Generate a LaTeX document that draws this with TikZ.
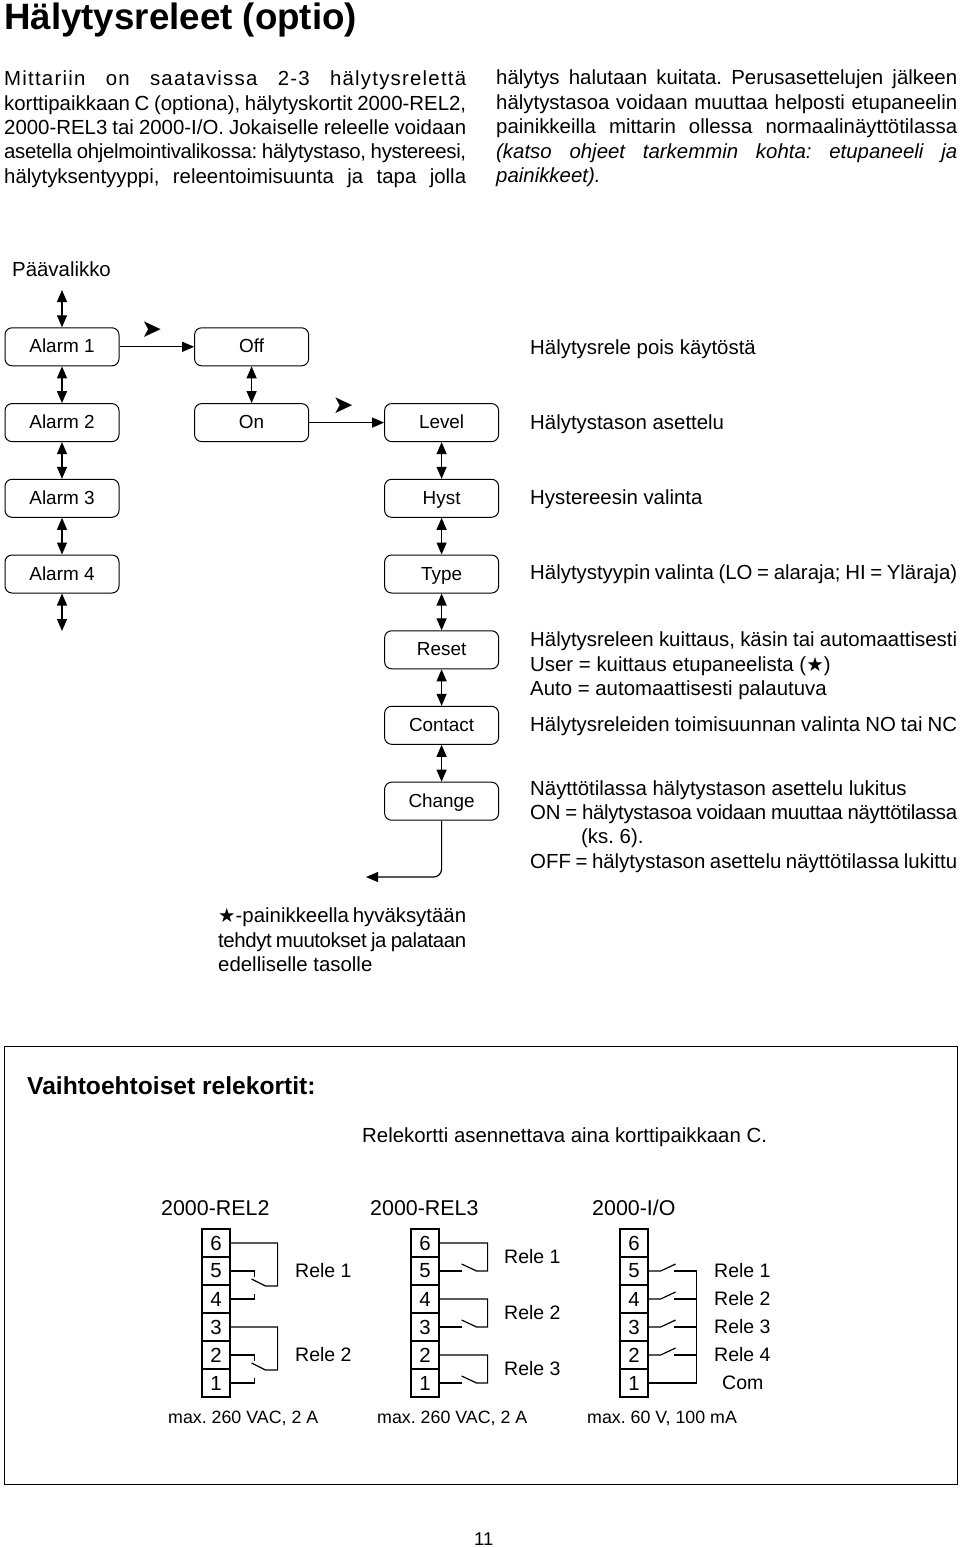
\documentclass[tikz,border=0pt]{standalone}
\usepackage{fontspec}
\setmainfont{Liberation Sans}
\newfontfamily\dvfont{DejaVu Sans}
\usetikzlibrary{arrows.meta}
\newcommand{\fs}[1]{\fontsize{#1}{#1}\selectfont}
\newcommand{\starsym}{{\dvfont\fs{19.5}★}}
\tikzset{
  txt/.style={anchor=base west,inner sep=0pt,font=\fs{20.4}},
  rl/.style={anchor=base west,inner sep=0pt,font=\fs{19.5}},
  menubox/.style={draw,rounded corners=7pt,line width=1pt,minimum width=114pt,minimum height=38pt,inner sep=0pt,font=\fs{18.9},text height=14pt,text depth=2pt},
  cell/.style={draw,line width=1.2pt,minimum width=28pt,minimum height=28pt,inner sep=0pt,font=\fs{20.4}},
  wire/.style={line width=1.2pt},
  dbl/.style={line width=1.2pt,{Triangle[length=12pt,width=10pt]}-{Triangle[length=12pt,width=10pt]}},
  one/.style={line width=1.2pt,-{Triangle[length=12pt,width=10pt]}},
  nxt/.style={inner sep=0pt,font=\dvfont\fs{25}}
}
% name, x, y (baseline), width, text: a line stretched to the given width
\newcommand{\jl}[5]{\node[txt] (#1) at (#2,#3) {\frenchspacing\hbox to #4pt{\spaceskip=0.278em plus 1fil minus 0.2em #5}};}
\newcommand{\tl}[4]{\node[txt] (#1) at (#2,#3) {\frenchspacing #4};}
\begin{document}
\begin{tikzpicture}[x=1pt,y=-1pt]
\useasboundingbox (0,0) rectangle (960,1548);
% title
\node[txt,font=\bfseries\fs{36.7}] (title) at (4,29) {Hälytysreleet (optio)};
% intro left
\jl{pa}{4}{85}{462}{\addfontfeature{LetterSpace=6}Mittariin on saatavissa 2-3 hälytysrelettä}
\jl{pb}{4}{110}{462}{korttipaikkaan C (optiona), hälytyskortit 2000-REL2,}
\jl{pc}{4}{134}{462}{2000-REL3 tai 2000-I/O. Jokaiselle releelle voidaan}
\jl{pd}{4}{158}{462}{\addfontfeature{LetterSpace=-1.6}asetella ohjelmointivalikossa: hälytystaso, hystereesi,}
\jl{pe}{4}{183}{462}{hälytyksentyyppi, releentoimisuunta ja tapa jolla}
% intro right
\jl{qa}{496}{84}{461}{hälytys halutaan kuitata. Perusasettelujen jälkeen}
\jl{qb}{496}{109}{461}{hälytystasoa voidaan muuttaa helposti etupaneelin}
\jl{qc}{496}{133}{461}{painikkeilla mittarin ollessa normaalinäyttötilassa}
\jl{qd}{496}{158}{461}{\itshape (katso ohjeet tarkemmin kohta: etupaneeli ja}
\tl{qe}{496}{182}{\itshape painikkeet).}
% menu
\tl{paav}{12}{276}{Päävalikko}
\node[menubox] (al1) at (62,346.8) {Alarm 1};
\node[menubox] (al2) at (62,422.6) {Alarm 2};
\node[menubox] (al3) at (62,498.3) {Alarm 3};
\node[menubox] (al4) at (62,574) {Alarm 4};
\node[menubox] (off) at (251.6,346.8) {Off};
\node[menubox] (on) at (251.6,422.6) {On};
\node[menubox] (level) at (441.6,422.6) {Level};
\node[menubox] (hyst) at (441.6,498.3) {Hyst};
\node[menubox] (type) at (441.6,574) {Type};
\node[menubox] (reset) at (441.6,649.8) {Reset};
\node[menubox] (contact) at (441.6,725.3) {Contact};
\node[menubox] (change) at (441.6,801.2) {Change};
\coordinate (topend) at (62,290);
\coordinate (botend) at (62,631);
\coordinate (backend) at (366,877);
\coordinate (backcorner) at (441.6,877);
\draw[dbl] (topend) -- (al1.north);
\draw[dbl] (al1) -- (al2);
\draw[dbl] (al2) -- (al3);
\draw[dbl] (al3) -- (al4);
\draw[dbl] (al4.south) -- (botend);
\draw[dbl] (off) -- (on);
\draw[dbl] (level) -- (hyst);
\draw[dbl] (hyst) -- (type);
\draw[dbl] (type) -- (reset);
\draw[dbl] (reset) -- (contact);
\draw[dbl] (contact) -- (change);
\draw[one] (al1) -- (off);
\draw[one] (on) -- (level);
\draw[one,rounded corners=8pt] (change.south) -- (backcorner) -- (backend);
\node[nxt] (adva) at (151.5,330) {➤};
\node[nxt] (advb) at (343,405.5) {➤};
% descriptions
\tl{da}{530}{354}{Hälytysrele pois käytöstä}
\tl{db}{530}{429}{Hälytystason asettelu}
\tl{dc}{530}{504}{Hystereesin valinta}
\jl{dd}{530}{579}{427}{Hälytystyypin valinta (LO = alaraja; HI = Yläraja)}
\jl{de}{530}{646}{427}{Hälytysreleen kuittaus, käsin tai automaattisesti}
\tl{df}{530}{671}{User = kuittaus etupaneelista (\starsym)}
\tl{dg}{530}{695}{Auto = automaattisesti palautuva}
\jl{dh}{530}{731}{427}{Hälytysreleiden toimisuunnan valinta NO tai NC}
\tl{di}{530}{795}{Näyttötilassa hälytystason asettelu lukitus}
\jl{dj}{530}{819}{427}{\addfontfeature{LetterSpace=-1.6}ON = hälytystasoa voidaan muuttaa näyttötilassa}
\tl{dk}{581}{843}{(ks. 6).}
\jl{dl}{530}{868}{427}{OFF = hälytystason asettelu näyttötilassa lukittu}
% note
\jl{na}{218}{922}{248}{\starsym-painikkeella hyväksytään}
\jl{nb}{218}{947}{248}{\addfontfeature{LetterSpace=-2}tehdyt muutokset ja palataan}
\tl{nc}{218}{971}{edelliselle tasolle}
% frame
\node[draw,line width=0.9pt,minimum width=953pt,minimum height=438pt,inner sep=0pt] (frame) at (480.6,1265) {};
\node[txt,font=\bfseries\fs{24.6}] (vaih) at (27,1094) {Vaihtoehtoiset relekortit:};
\tl{rele}{362}{1142}{Relekortti asennettava aina korttipaikkaan C.}
\node[txt,font=\fs{21.4}] (ha) at (161,1215) {2000-REL2};
\node[txt,font=\fs{21.4}] (hb) at (370,1215) {2000-REL3};
\node[txt,font=\fs{21.4}] (hc) at (592,1215) {2000-I/O};
% terminal blocks
\foreach \n/\yy in {6/1243,5/1271,4/1299,3/1327,2/1355,1/1383}{
  \node[cell] (a\n) at (216,\yy) {\n};
  \node[cell] (b\n) at (425,\yy) {\n};
  \node[cell] (c\n) at (634,\yy) {\n};
}
% block 1
\foreach \x/\y/\z in {a6/a5/a4,a3/a2/a1}{
  \draw[wire] (\x.east) -- ++(47,0) -- ++(0,43) -- ++(-12,0) -- ++(-14,-7);
  \draw[wire] (\y.east) -- ++(24,0) -- ++(0,6);
  \draw[wire] (\z.east) -- ++(24,0) -- ++(0,-5);
}
% block 2
\foreach \x/\y in {b6/b5,b4/b3,b2/b1}{
  \draw[wire] (\x.east) -- ++(48,0) -- ++(0,28) -- ++(-11,0) -- ++(-15,-7);
  \draw[wire] (\y.east) -- ++(22,0);
}
% block 3
\foreach \x in {c5,c4,c3,c2}{
  \draw[wire] (\x.east) -- ++(12,0) -- ++(15,-7);
  \draw[wire] ([xshift=25pt]\x.east) -- ++(23,0);
}
\draw[wire] (c1.east) -- ++(48,0) -- ++(0,-112);
% relay labels
\node[rl] (ra) at (295,1277) {Rele 1};
\node[rl] (rb) at (295,1361) {Rele 2};
\node[rl] (rc) at (504,1263) {Rele 1};
\node[rl] (rd) at (504,1319) {Rele 2};
\node[rl] (re) at (504,1375) {Rele 3};
\node[rl] (rf) at (714,1277) {Rele 1};
\node[rl] (rg) at (714,1305) {Rele 2};
\node[rl] (rh) at (714,1333) {Rele 3};
\node[rl] (ri) at (714,1361) {Rele 4};
\node[rl] (rj) at (722,1389) {Com};
\node[txt,font=\frenchspacing\fs{17.8}] (ma) at (168,1423) {max. 260 VAC, 2 A};
\node[txt,font=\frenchspacing\fs{17.8}] (mb) at (377,1423) {max. 260 VAC, 2 A};
\node[txt,font=\frenchspacing\fs{17.8}] (mc) at (587,1423) {max. 60 V, 100 mA};
\node[txt,font=\fs{18.4}] (page) at (474,1545) {11};
\end{tikzpicture}
\end{document}
